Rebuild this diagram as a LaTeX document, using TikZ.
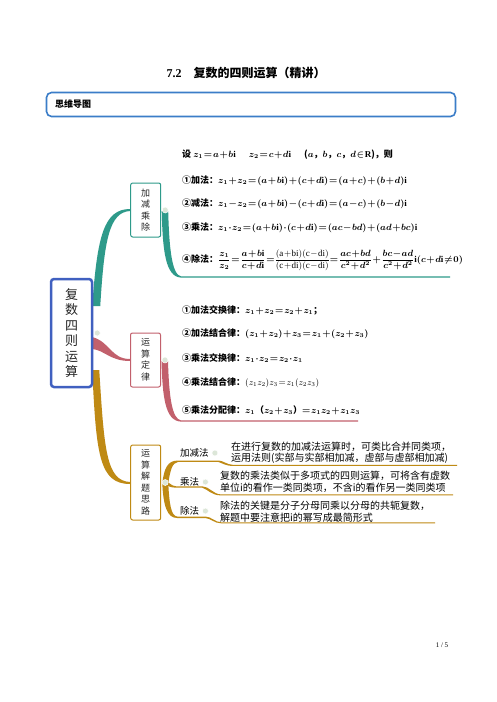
\documentclass[tikz,border=0pt]{standalone}
\usepackage{amsmath}
\usepackage{fontspec}
\setmainfont{Liberation Serif}
\newfontfamily\cjk{Noto Sans CJK SC}
\usetikzlibrary{calc,backgrounds}

\definecolor{rootblue}{HTML}{4060C0}
\definecolor{hdblue}{HTML}{3B7DC8}
\definecolor{jteal}{HTML}{2E9A8A}
\definecolor{dred}{HTML}{C2606C}
\definecolor{sgold}{HTML}{BF8A14}
\definecolor{knobgray}{HTML}{DCE6D8}

\newcommand\tightmath{\medmuskip=1mu\relax\thickmuskip=1.5mu\relax}

\tikzset{
  topic/.style={draw=#1, line width=1pt, rounded corners=2pt, fill=white, text=black!85, minimum width=30pt, align=center, inner sep=0pt, font=\cjk\fontsize{9}{11.5}\selectfont},
  knob/.style={circle, fill=knobgray, draw=white, line width=0.5pt, inner sep=0pt, minimum size=6pt},
  lawline/.style={anchor=west, inner sep=0pt, font=\cjk\bfseries\boldmath\fontsize{9}{11}\selectfont\tightmath},
  hint/.style={anchor=west, inner sep=0pt, align=left, font=\cjk\fontsize{10}{11.5}\selectfont},
  twig/.style={anchor=west, inner sep=0pt, font=\cjk\fontsize{9.5}{11}\selectfont},
}

\begin{document}
\begin{tikzpicture}[x=1pt,y=-1pt]
\useasboundingbox (0,0) rectangle (496,702);

\node[font=\cjk\bfseries\fontsize{12}{14}\selectfont] (title) at (246,73) {{\rmfamily 7.2}\quad 复数的四则运算（精讲）};
\node[draw=hdblue, line width=1.6pt, rounded corners=5pt, minimum width=409pt, minimum height=24pt] (banner) at (251,104.5) {};
\node[anchor=west, font=\cjk\bfseries\fontsize{9}{10}\selectfont] (bannertext) at ($(banner.west)+(6,0)$) {思维导图};

\node[topic=rootblue, line width=2.5pt, rounded corners=3pt, minimum width=41pt, minimum height=108pt, font=\cjk\fontsize{13}{15.5}\selectfont] (root) at (71.5,333) {复\\数\\四\\则\\运\\算};
\node[topic=jteal, minimum height=54pt] (jjcc) at (145.7,210) {加\\减\\乘\\除};
\node[topic=dred, minimum height=54pt] (ysdl) at (145.5,360) {运\\算\\定\\律};
\node[topic=sgold, minimum height=75pt] (ysjt) at (145.7,482.5) {运\\算\\解\\题\\思\\路};

\node[lawline] (setz) at (182,155) {设 $z_1=a+b\mathrm{i}$\quad\ \ $z_2=c+d\mathrm{i}$\quad\ \ ($a$，$b$，$c$，$d\in\mathrm{R}$)，则};
\node[lawline] (addz) at (182,181) {①加法：$z_1+z_2=(a+b\mathrm{i})+(c+d\mathrm{i})=(a+c)+(b+d)\mathrm{i}$};
\node[lawline] (subz) at (182,204) {②减法：$z_1-z_2=(a+b\mathrm{i})-(c+d\mathrm{i})=(a-c)+(b-d)\mathrm{i}$};
\node[lawline] (mulz) at (182,228) {③乘法：$z_1\cdot z_2=(a+b\mathrm{i})\cdot(c+d\mathrm{i})=(ac-bd)+(ad+bc)\mathrm{i}$};
\node[lawline] (divz) at (182,260) {④除法：$\dfrac{z_1}{z_2}=\dfrac{a+b\mathrm{i}}{c+d\mathrm{i}}=${\unboldmath$\dfrac{\mathrm{(a+bi)(c-di)}}{\mathrm{(c+di)(c-di)}}$}$=\dfrac{ac+bd}{c^2+d^2}+\dfrac{bc-ad}{c^2+d^2}\mathrm{i}(c+d\mathrm{i}\neq0)$};

\node[lawline] (law1) at (182,310) {①加法交换律：$z_1+z_2=z_2+z_1$；};
\node[lawline] (law2) at (182,334) {②加法结合律：$(z_1+z_2)+z_3=z_1+(z_2+z_3)$};
\node[lawline] (law3) at (182,358) {③乘法交换律：$z_1\cdot z_2=z_2\cdot z_1$};
\node[lawline] (law4) at (182,383) {④乘法结合律：{\mdseries\unboldmath$(z_1z_2)z_3=z_1(z_2z_3)$}};
\node[lawline] (law5) at (182,410) {⑤乘法分配律：$z_1$（$z_2+z_3$）$=z_1z_2+z_1z_3$};

\node[twig] (jjf) at (180,453) {加减法};
\node[twig] (cf) at (180,482) {乘法};
\node[twig] (chf) at (180,511) {除法};
\node[hint] (jjtip) at (231,452.5) {在进行复数的加减法运算时，可类比合并同类项，\\运用法则(实部与实部相加减，虚部与虚部相加减)};
\node[hint] (ctip) at (220,482) {复数的乘法类似于多项式的四则运算，可将含有虚数\\单位i的看作一类同类项，不含i的看作另一类同类项};
\node[hint] (chtip) at (220,511.5) {除法的关键是分子分母同乘以分母的共轭复数，\\解题中要注意把i的幂写成最简形式};

\node[font=\fontsize{7}{8}\selectfont] (pageno) at (442,645) {1 / 5};

\begin{scope}[on background layer]
\fill[white] (0,0) rectangle (496,702);
\fill[jteal] ($(root.east)+(-1,-27)$) .. controls ($(root.east)+(4,-98)$) and ($(jjcc.west)+(-26,-1)$) .. ($(jjcc.west)+(0,-1)$) -- ($(jjcc.west)+(0,1)$) .. controls ($(jjcc.west)+(-21,2)$) and ($(root.east)+(11,-93)$) .. ($(root.east)+(7,-27)$) -- cycle;
\fill[dred] ($(root.east)+(-1,4)$) .. controls ($(root.east)+(17,9)$) and ($(ysdl.west)+(-19,-1)$) .. ($(ysdl.west)+(0,-1)$) -- ($(ysdl.west)+(0,1)$) .. controls ($(ysdl.west)+(-20,1)$) and ($(root.east)+(11,17)$) .. ($(root.east)+(-1,16)$) -- cycle;
\fill[sgold] ($(root.east)+(-1,37)$) .. controls ($(root.east)+(3,122)$) and ($(ysjt.west)+(-31,1.5)$) .. ($(ysjt.west)+(0,1.5)$) -- ($(ysjt.west)+(0,-0.5)$) .. controls ($(ysjt.west)+(-24,-1.5)$) and ($(root.east)+(11,117)$) .. ($(root.east)+(6,37)$) -- cycle;

\foreach \n/\c/\d/\l in {jjcc/jteal/67/289, ysdl/dred/61/197}
    \fill[\c, shift={(\n.east)}] (0.5,1) .. controls (1.5,\d*0.6) and (4,\d) .. (20,\d+0.6) -- (\l,\d+0.6) -- (\l,\d-0.6) -- (20,\d-0.6) .. controls (11,\d-2) and (8,\d*0.6) .. (7,1) -- cycle;

\begin{scope}[shift={(ysjt.east)}]
\fill[sgold] (1,1) .. controls (3,-14) and (6,-22) .. (17,-22) -- (57,-22) .. controls (62,-22) and (65,-18) .. (72,-17.6) -- (296,-17.6) -- (296,-16.6) -- (72,-16.6) .. controls (64,-16.6) and (61,-19.5) .. (57,-20.6) -- (17,-20.6) .. controls (11,-20) and (9,-12) .. (7,1) -- cycle;
\fill[sgold] (3,-1.5) .. controls (8,-1) and (10,3.8) .. (15,3.8) -- (41,3.8) .. controls (48,3.8) and (52,11.9) .. (60,11.9) -- (292,11.9) -- (292,12.9) -- (60,12.9) .. controls (50,12.9) and (47,7) .. (41,5.2) -- (15,5.2) .. controls (9,5.2) and (6,3) .. (3,2) -- cycle;
\fill[sgold] (1,-1) .. controls (2,24) and (6,35.5) .. (16,35.5) -- (44,35.5) .. controls (50,36) and (53,40.8) .. (60,40.8) -- (274,40.8) -- (274,39.8) -- (60,39.8) .. controls (54,39.8) and (50,34) .. (44,34) -- (16,34) .. controls (10,33.5) and (8,22) .. (7,-1) -- cycle;
\end{scope}
\end{scope}

\node[knob] (rootknob) at ($(root.east)+(4,0)$) {};
\foreach \n in {jjcc, ysdl, ysjt}
    \node[knob] (\n knob) at ($(\n.east)+(4,0)$) {};
\foreach \n in {jjf, cf, chf}
    \node[knob] (\n knob) at ($(\n.east)+(6,0)$) {};

\end{tikzpicture}
\end{document}
